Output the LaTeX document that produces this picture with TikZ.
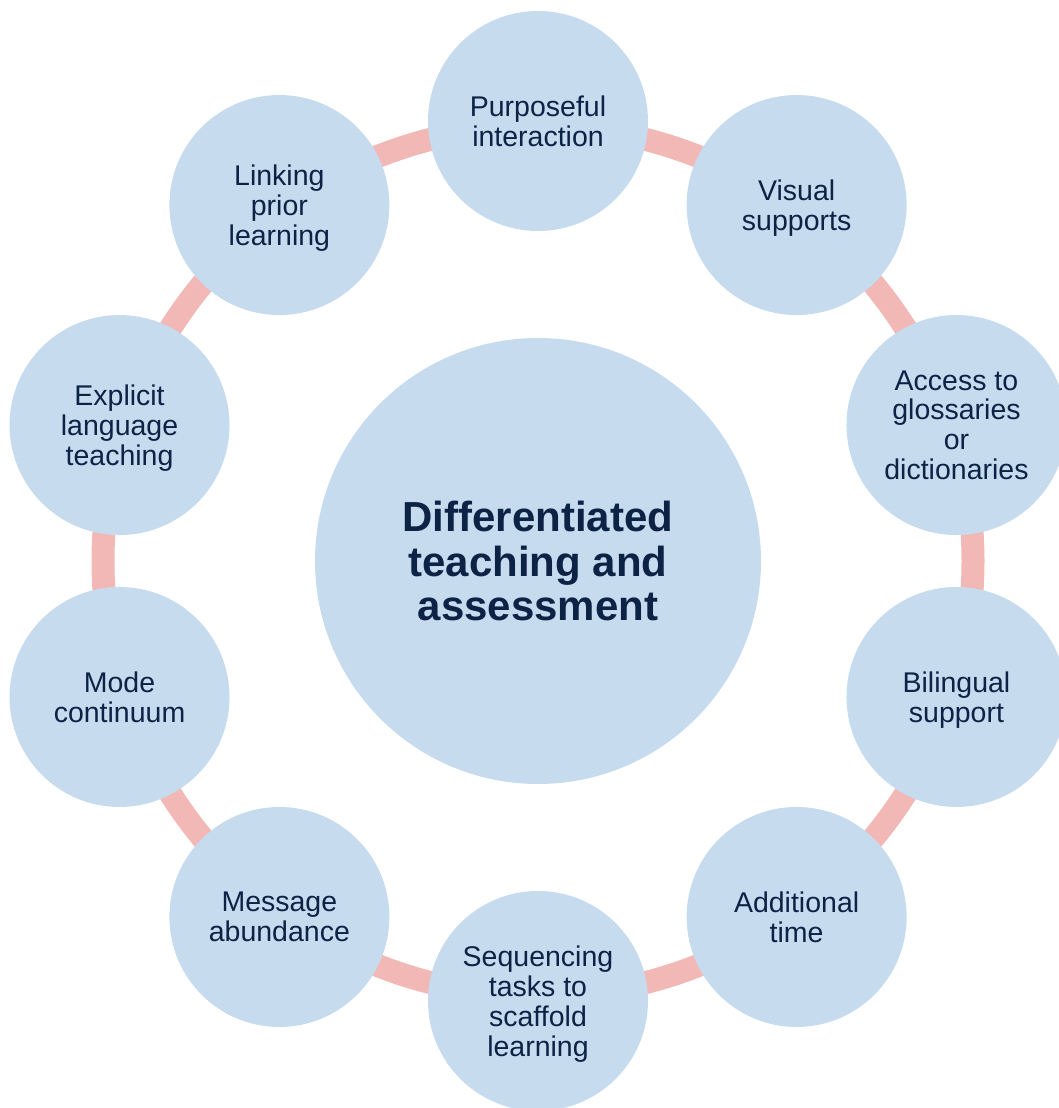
\documentclass[tikz,border=0pt]{standalone}
\usepackage{fontspec}
\setmainfont{Liberation Sans}
\definecolor{bubble}{RGB}{198,219,238}
\definecolor{ringcol}{RGB}{242,184,182}
\definecolor{ink}{RGB}{13,35,70}
\tikzset{
  hubnode/.style={circle, fill=bubble, minimum size=446pt, inner sep=0pt, text=ink,
    align=center, text depth=0pt, font=\fontsize{42}{44.5}\selectfont\bfseries},
  leaf/.style={circle, fill=bubble, minimum size=220pt, inner sep=0pt, text=ink,
    align=center, text depth=0pt, font=\fontsize{28.5}{29.8}\selectfont},
  ringline/.style={draw=ringcol, line width=23pt}
}
\begin{document}
\begin{tikzpicture}[x=1pt,y=-1pt]
\useasboundingbox (0,0) rectangle (1059,1108);
\clip (0,0) rectangle (1059,1108);
\node[hubnode] (hub) at (538,561) {Differentiated\\teaching and\\assessment};
\draw[ringline] (hub.center) circle[radius=435pt];
\node[leaf] (n1) at ([shift={(90:440pt)}]hub.center) {Purposeful\\interaction};
\node[leaf] (n2) at ([shift={(54:440pt)}]hub.center) {Visual\\supports};
\node[leaf] (n3) at ([shift={(18:440pt)}]hub.center) {Access to\\glossaries\\or\\dictionaries};
\node[leaf] (n4) at ([shift={(-18:440pt)}]hub.center) {Bilingual\\support};
\node[leaf] (n5) at ([shift={(-54:440pt)}]hub.center) {Additional\\time};
\node[leaf] (n6) at ([shift={(-90:440pt)}]hub.center) {Sequencing\\tasks to\\scaffold\\learning};
\node[leaf] (n7) at ([shift={(-126:440pt)}]hub.center) {Message\\abundance};
\node[leaf] (n8) at ([shift={(-162:440pt)}]hub.center) {Mode\\continuum};
\node[leaf] (n9) at ([shift={(162:440pt)}]hub.center) {Explicit\\language\\teaching};
\node[leaf] (n10) at ([shift={(126:440pt)}]hub.center) {Linking\\prior\\learning};
\end{tikzpicture}
\end{document}
